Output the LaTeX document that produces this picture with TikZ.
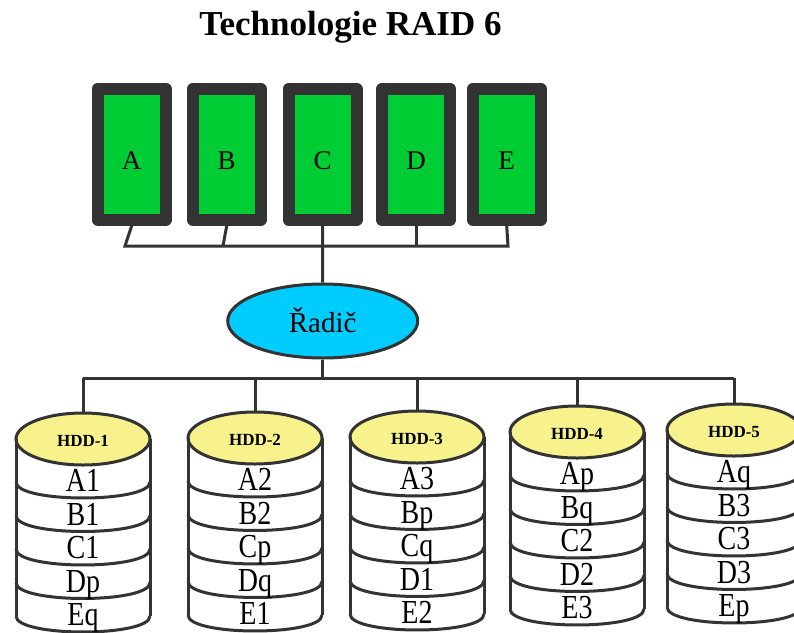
\documentclass[tikz,border=0pt]{standalone}
\usepackage{fontspec}
\setmainfont{Liberation Serif}
\usetikzlibrary{shapes.geometric}
\definecolor{drivegreen}{RGB}{0,204,51}
\definecolor{darkframe}{RGB}{51,51,51}
\definecolor{ctrlcyan}{RGB}{0,204,255}
\definecolor{hddyellow}{RGB}{247,242,140}
\tikzset{
  wire/.style={draw=darkframe, line width=3pt},
  drive/.style={draw=darkframe, line width=12pt, line join=round, fill=drivegreen,
    minimum width=68pt, minimum height=131pt, inner sep=0pt,
    text height=30pt, text depth=0pt, font=\fontsize{27}{27}\selectfont},
  ctrl/.style={ellipse, draw=darkframe, line width=3pt, fill=ctrlcyan,
    minimum width=190pt, minimum height=74pt, inner sep=0pt,
    text height=23pt, text depth=0pt, font=\fontsize{29}{29}\selectfont},
  hddtop/.style={ellipse, draw=darkframe, line width=3pt, fill=hddyellow,
    minimum width=134pt, minimum height=52pt, inner sep=0pt, outer sep=0pt,
    text height=15pt, text depth=0pt, font=\fontsize{17}{17}\selectfont\bfseries},
  stripe/.style={anchor=base, inner sep=0pt, font=\fontsize{28}{28}\selectfont},
}
\begin{document}
\begin{tikzpicture}[x=1pt,y=-1pt]
\useasboundingbox (0,0) rectangle (794,632);
\clip (0,0) rectangle (794,632);
\fill[white] (0,0) rectangle (794,632);

\node[anchor=base, inner sep=0pt, font=\fontsize{35}{35}\selectfont\bfseries] (title) at (350.5,35) {Technologie RAID 6};

% disky nahore
\node[drive] (A) at (131.7,154.3) {A};
\node[drive] (B) at (226.7,154.3) {B};
\node[drive] (C) at (322.5,154.3) {C};
\node[drive] (D) at (416,154.3) {D};
\node[drive] (E) at (506.7,154.3) {E};

\coordinate (busA) at (125,246);
\coordinate (busB) at (223,246);
\coordinate (busE) at (508,246);
\draw[wire] (A.south) -- (busA) -- (busE) -- (E.south);
\draw[wire] (B.south) -- (busB);
\draw[wire] (D.south) -- (D.south |- busA);

% radic
\node[ctrl] (radic) at (322.7,321) {Řadič};
\draw[wire] (C.south) -- (radic.north);

% HDD pole
\foreach \n/\x/\y/\ra/\rb/\rc/\rd/\re in {1/83/439/A1/B1/C1/Dp/Eq,
    2/255/438/A2/B2/Cp/Dq/E1, 3/417/437/A3/Bp/Cq/D1/E2,
    4/577/432/Ap/Bq/C2/D2/E3, 5/734/430/Aq/B3/C3/D3/Ep} {
  \node[hddtop] (hdd\n) at (\x,\y) {HDD-\n};
  \draw[wire] (hdd\n.west) -- ++(0,177);
  \draw[wire] (hdd\n.east) -- ++(0,177);
  \foreach \k/\t in {0/\ra,1/\rb,2/\rc,3/\rd,4/\re} {
    \draw[wire] ({\x-67},{\y+43+33.5*\k}) .. controls +(0,21.3) and +(0,21.3) .. ({\x+67},{\y+43+33.5*\k});
    \node[stripe] (r\n\k) at ({\x},{\y+52.5+33.5*\k}) {\scalebox{1}[1.2]{\t}};
  }
}

\coordinate (lowbus) at (322.7,378);
\draw[wire] (radic.south) -- (lowbus);
\draw[wire] (hdd1.north |- lowbus) -- (hdd5.north |- lowbus);
\foreach \n in {1,...,5}
  \draw[wire] (hdd\n.north |- lowbus) -- (hdd\n.north);
\end{tikzpicture}
\end{document}
